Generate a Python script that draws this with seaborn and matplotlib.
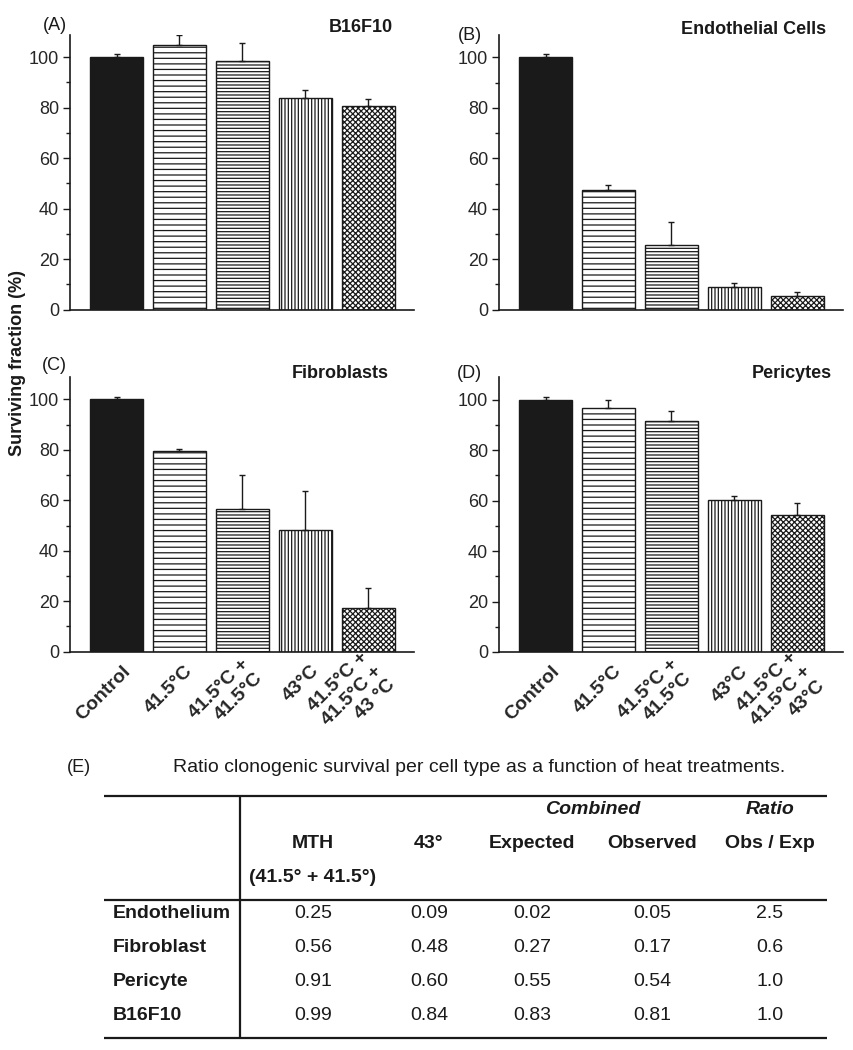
import numpy as np
import pandas as pd
import matplotlib
matplotlib.use("Agg")
import matplotlib.pyplot as plt
import matplotlib.transforms as mtransforms
from matplotlib.ticker import MultipleLocator
import seaborn as sns

# --- data -------------------------------------------------------------
treatments = ["Control", "41.5°C", "41.5°C +\n41.5°C", "43°C", "41.5°C +\n41.5°C +\n43°C"]
tick_labels_c = ["Control", "41.5°C", "41.5°C +\n41.5°C", "43°C", "41.5°C +\n41.5°C +\n43 °C"]
tick_labels_d = ["Control", "41.5°C", "41.5°C +\n41.5°C", "43°C", "41.5°C +\n41.5°C +\n43°C"]

b16_vals = [100, 104.9, 98.6, 84.0, 80.7]
b16_err = [1.2, 3.8, 7.0, 3.1, 2.9]
endo_vals = [100, 47.4, 25.5, 9.0, 5.4]
endo_err = [1.3, 1.9, 9.2, 1.7, 1.5]
fibro_vals = [100, 79.6, 56.5, 48.4, 17.4]
fibro_err = [1.0, 0.6, 13.5, 15.4, 7.8]
peri_vals = [100, 96.7, 91.4, 60.4, 54.4]
peri_err = [1.0, 3.3, 4.2, 1.6, 4.5]

row_labels = ["Endothelium", "Fibroblast", "Pericyte", "B16F10"]
mth = [0.25, 0.56, 0.91, 0.99]
t43 = [0.09, 0.48, 0.60, 0.84]
expected = [0.02, 0.27, 0.55, 0.83]
observed = [0.05, 0.17, 0.54, 0.81]
ratio = [2.5, 0.6, 1.0, 1.0]

# --- style ------------------------------------------------------------
sns.set_style("ticks")
plt.rcParams["font.family"] = ["Liberation Sans", "DejaVu Sans"]
plt.rcParams["hatch.linewidth"] = 0.9
plt.rcParams["hatch.color"] = "#1a1a1a"
ink = "#1a1a1a"

bar_colors = [ink, "white", "white", "white", "white"]
hatches = [None, "---", "-----", "|||||", "xxxxxx"]

W, H = 854, 1050
fig = plt.figure(figsize=(W / 100, H / 100), dpi=100)


def px_axes(left, bottom, width, height):
    return fig.add_axes([left / W, 1 - bottom / H, width / W, height / H])


def panel(ax, vals, errs, labels=None):
    df = pd.DataFrame({"treatment": treatments, "survival": vals})
    sns.barplot(data=df, x="treatment", y="survival", hue="treatment",
                palette=bar_colors, legend=False, width=0.845,
                edgecolor=ink, linewidth=1.0, errorbar=None, ax=ax)
    for patch, h in zip(ax.patches, hatches):
        if h:
            patch.set_hatch(h)
    x = np.arange(len(vals))
    ax.errorbar(x, vals, yerr=[np.zeros(len(vals)), errs], fmt="none",
                ecolor=ink, elinewidth=1.0, capsize=2, capthick=1.0, zorder=5)
    ax.set_xlim(-0.74, 4.73)
    ax.set_ylim(0, 109)
    ax.patch.set_alpha(0)
    ax.yaxis.set_major_locator(MultipleLocator(20))
    ax.yaxis.set_minor_locator(MultipleLocator(10))
    ax.tick_params(axis="y", which="major", length=5, width=1, labelsize=13, pad=3, color=ink)
    ax.tick_params(axis="y", which="minor", length=3, width=1, color=ink)
    ax.tick_params(axis="x", length=0, pad=12)
    ax.set_xlabel("")
    ax.set_ylabel("")
    sns.despine(ax=ax)
    for s in ["left", "bottom"]:
        ax.spines[s].set_linewidth(1.2)
        ax.spines[s].set_color(ink)
    ax.set_xticks(x)
    if labels is None:
        ax.set_xticklabels([])
    else:
        ax.set_xticklabels(labels)
        shift = mtransforms.ScaledTranslation(11 / 100, 0, fig.dpi_scale_trans)
        for lab in ax.get_xticklabels():
            lab.set_rotation(45)
            lab.set_ha("right")
            lab.set_va("center")
            lab.set_rotation_mode("anchor")
            lab.set_multialignment("right")
            lab.set_fontweight("bold")
            lab.set_fontsize(14)
            lab.set_transform(lab.get_transform() + shift)


ax_a = px_axes(70, 309.5, 344, 275)
ax_b = px_axes(499, 309.7, 344, 275)
ax_c = px_axes(70, 651.7, 344, 275)
ax_d = px_axes(499, 652, 344, 275)

panel(ax_a, b16_vals, b16_err)
panel(ax_b, endo_vals, endo_err)
panel(ax_c, fibro_vals, fibro_err, tick_labels_c)
panel(ax_d, peri_vals, peri_err, tick_labels_d)

# overlay axes in pixel coordinates for labels and table
ov = fig.add_axes([0, 0, 1, 1], zorder=10)
ov.set_xlim(0, W)
ov.set_ylim(H, 0)
ov.axis("off")

for txt, x, y in [("(A)", 67, 25), ("(B)", 482, 35), ("(C)", 67, 366), ("(D)", 482, 374)]:
    ov.text(x, y, txt, ha="right", va="center", fontsize=13, color=ink)
for txt, x, y in [("B16F10", 393, 28), ("Endothelial Cells", 826, 30),
                  ("Fibroblasts", 389, 374), ("Pericytes", 832, 374)]:
    ov.text(x, y, txt, ha="right", va="center", fontsize=13, fontweight="bold", color=ink)

ov.text(18, 363, "Surviving fraction (%)", rotation=90, ha="center", va="center",
        fontsize=13, fontweight="bold", color=ink)

# --- table (E) --------------------------------------------------------
ov.text(67, 768, "(E)", ha="left", va="center", fontsize=13, color=ink)
ov.text(479, 768, "Ratio clonogenic survival per cell type as a function of heat treatments.",
        ha="center", va="center", fontsize=14, color=ink)

ov.hlines([796, 900, 1038], 104, 827, color=ink, linewidth=1.6)
ov.vlines(240, 796, 1038, color=ink, linewidth=1.6)

col_x = [313, 429, 532, 652, 770]
ov.text(593, 810, "Combined", ha="center", va="center", fontsize=14,
        fontweight="bold", fontstyle="italic", color=ink)
ov.text(770, 810, "Ratio", ha="center", va="center", fontsize=14,
        fontweight="bold", fontstyle="italic", color=ink)
headers = ["MTH", "43°", "Expected", "Observed", "Obs / Exp"]
for cx, h in zip(col_x, headers):
    ov.text(cx, 843, h, ha="center", va="center", fontsize=14, fontweight="bold", color=ink)
ov.text(col_x[0], 877, "(41.5° + 41.5°)", ha="center", va="center", fontsize=14,
        fontweight="bold", color=ink)

row_y = [914, 947, 981, 1015]
for i, (lab, ry) in enumerate(zip(row_labels, row_y)):
    ov.text(113, ry, lab, ha="left", va="center", fontsize=14, fontweight="bold", color=ink)
    cells = [f"{mth[i]:.2f}", f"{t43[i]:.2f}", f"{expected[i]:.2f}",
             f"{observed[i]:.2f}", f"{ratio[i]:.1f}"]
    for cx, c in zip(col_x, cells):
        ov.text(cx, ry, c, ha="center", va="center", fontsize=14, color=ink)

fig.savefig("out.png", dpi=100)
